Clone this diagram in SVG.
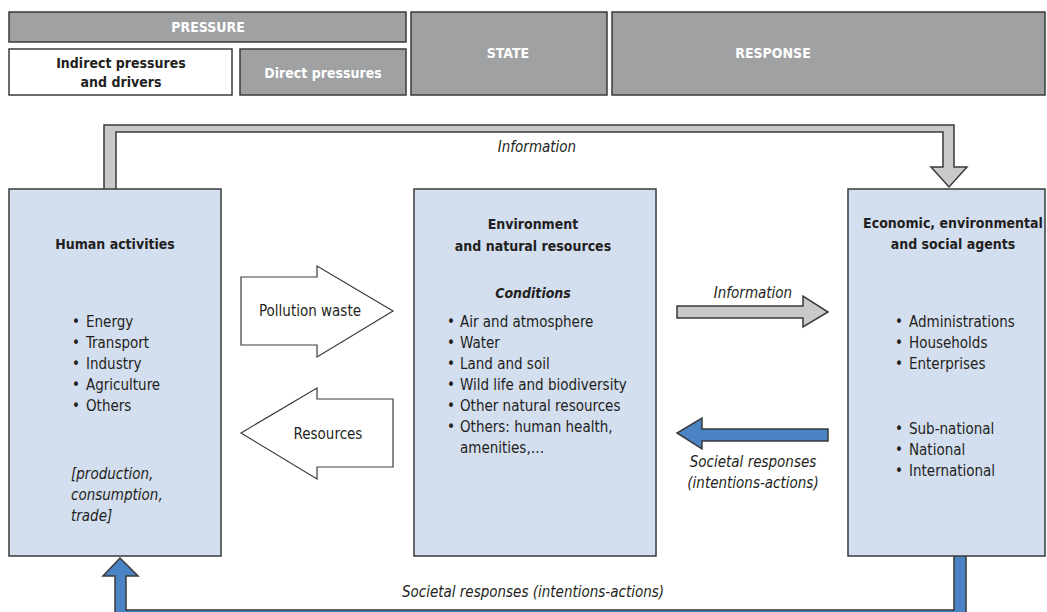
<svg xmlns="http://www.w3.org/2000/svg" width="1047" height="612" viewBox="0 0 1047 612">
<style>
text{font-family:"Liberation Sans Narrow","DejaVu Sans Condensed","Liberation Sans",sans-serif;fill:#231f20;font-size:15px}
.b{font-weight:bold;font-size:14px}
.i{font-style:italic}
.w{fill:#ffffff}
.c{text-anchor:middle}
.hdr{fill:#a0a1a3;stroke:#3a3a3a;stroke-width:1.5}
.hw{fill:#ffffff;stroke:#3a3a3a;stroke-width:1.5}
.node{fill:#d3deef;stroke:#3a3a3a;stroke-width:1.5}
.ga{fill:#c8c9ca;stroke:#3a3a3a;stroke-width:1.5;stroke-linejoin:miter}
.wa{fill:#ffffff;stroke:#3a3a3a;stroke-width:1.2}
.ba{fill:#4b84c5;stroke:#3a3a3a;stroke-width:1.5}
</style>
<g id="header">
<rect class="hdr" x="9" y="12" width="397" height="30"/>
<text class="b w c" x="208" y="32">PRESSURE</text>
<rect class="hw" x="9" y="49" width="223" height="46"/>
<text class="b c" x="121" y="68">Indirect pressures</text>
<text class="b c" x="121" y="87">and drivers</text>
<rect class="hdr" x="240" y="49" width="166" height="46"/>
<text class="b w c" x="323" y="78">Direct pressures</text>
<rect class="hdr" x="411" y="12" width="196" height="83"/>
<text class="b w c" x="508" y="58">STATE</text>
<rect class="hdr" x="612" y="12" width="433" height="83"/>
<text class="b w c" x="773" y="58">RESPONSE</text>
</g>
<g id="connectors">
<path class="ga" d="M104,189 L104,125 L954,125 L954,167 L967,167 L949,187 L931,167 L943,167 L943,132 L116,132 L116,189"/>
<text class="i c" x="537" y="152">Information</text>
<path class="wa" d="M241,277 L317,277 L317,266 L393,311 L317,357 L317,345 L241,345 Z"/>
<text class="c" x="310" y="316">Pollution waste</text>
<path class="wa" d="M241,433 L317,388 L317,399 L393,399 L393,467 L317,467 L317,479 Z"/>
<text class="c" x="328" y="439">Resources</text>
<path class="ga" d="M677,306 L803,306 L803,296 L828,312 L803,327 L803,318 L677,318 Z"/>
<text class="i c" x="753" y="298">Information</text>
<path class="ba" d="M828,429 L702,429 L702,418 L677,433 L702,449 L702,441 L828,441 Z"/>
<text class="i c" x="753" y="467">Societal responses</text>
<text class="i c" x="753" y="488">(intentions-actions)</text>
<path class="ba" d="M966,556 L966,620 L115,620 L115,576 L103,576 L120,558 L138,576 L126,576 L126,610 L954,610 L954,556"/>
<text class="i c" x="533" y="597">Societal responses (intentions-actions)</text>
</g>
<g id="human">
<rect class="node" x="9" y="189" width="212" height="367"/>
<text class="b c" x="115" y="249">Human activities</text>
<text x="72" y="327">•</text><text x="86" y="327">Energy</text>
<text x="72" y="348">•</text><text x="86" y="348">Transport</text>
<text x="72" y="369">•</text><text x="86" y="369">Industry</text>
<text x="72" y="390">•</text><text x="86" y="390">Agriculture</text>
<text x="72" y="411">•</text><text x="86" y="411">Others</text>
<text class="i" x="71" y="479">[production,</text>
<text class="i" x="71" y="500">consumption,</text>
<text class="i" x="71" y="521">trade]</text>
</g>
<g id="environment">
<rect class="node" x="414" y="189" width="242" height="367"/>
<text class="b c" x="533" y="229">Environment</text>
<text class="b c" x="533" y="251">and natural resources</text>
<text class="b i c" x="533" y="298">Conditions</text>
<text x="447" y="327">•</text><text x="460" y="327">Air and atmosphere</text>
<text x="447" y="348">•</text><text x="460" y="348">Water</text>
<text x="447" y="369">•</text><text x="460" y="369">Land and soil</text>
<text x="447" y="390">•</text><text x="460" y="390">Wild life and biodiversity</text>
<text x="447" y="411">•</text><text x="460" y="411">Other natural resources</text>
<text x="447" y="432">•</text><text x="460" y="432">Others: human health,</text>
<text x="460" y="453">amenities,…</text>
</g>
<g id="agents">
<rect class="node" x="848" y="189" width="197" height="367"/>
<text class="b c" x="953" y="228">Economic, environmental</text>
<text class="b c" x="953" y="249">and social agents</text>
<text x="895" y="327">•</text><text x="909" y="327">Administrations</text>
<text x="895" y="348">•</text><text x="909" y="348">Households</text>
<text x="895" y="369">•</text><text x="909" y="369">Enterprises</text>
<text x="895" y="434">•</text><text x="909" y="434">Sub-national</text>
<text x="895" y="455">•</text><text x="909" y="455">National</text>
<text x="895" y="476">•</text><text x="909" y="476">International</text>
</g>
</svg>
